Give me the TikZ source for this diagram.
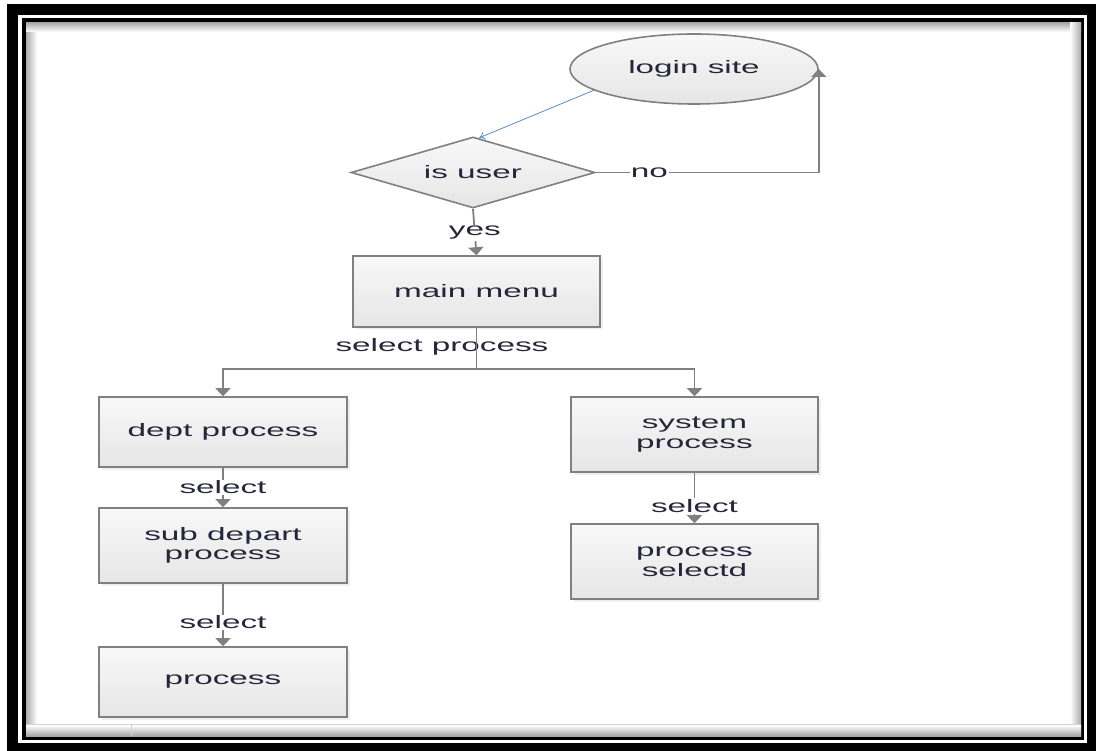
\documentclass[tikz,border=0pt]{standalone}
\usepackage{fontspec}
\newfontfamily\lab[FakeStretch=1.85]{Liberation Sans}
\usetikzlibrary{shapes.geometric,arrows.meta,shadows,calc}
\definecolor{edge}{HTML}{808080}
\definecolor{ink}{HTML}{26263A}
\definecolor{link}{HTML}{5B8BD0}
\definecolor{boxtop}{HTML}{F8F8F8}
\definecolor{boxbot}{HTML}{E6E6E6}
\begin{document}
\begin{tikzpicture}[x=1pt,y=-1pt,
  every node/.style={font=\lab\fontsize{18}{19.5}\selectfont, text=ink},
  stepbox/.style={draw=edge, line width=1.6pt, top color=boxtop, bottom color=boxbot,
    minimum width=248pt, minimum height=70pt, align=center, inner sep=0pt,
    drop shadow={opacity=0.12, shadow xshift=2.5pt, shadow yshift=-2.5pt}},
  flow/.style={draw=edge, line width=1.8pt, -{Triangle[length=8pt,width=15pt]}},
  lbl/.style={fill=white, inner sep=1pt}]
% page and frame
\useasboundingbox (0,0) rectangle (1096,751);
\fill[white] (0,0) rectangle (1096,751);
\fill[black] (7,4) rectangle (1096,751);
\fill[white] (18,15) rectangle (1087,743);
\fill[black] (21.5,18) rectangle (1084,740);
\fill[white] (26,23) rectangle (1081,736);
\shade[left color=gray!65, right color=white] (26,23) rectangle (37,736);
\shade[top color=gray!65, bottom color=white] (26,23) rectangle (1081,32);
\shade[left color=white, right color=gray!65] (1070,23) rectangle (1081,736);
\shade[top color=white, bottom color=gray!70] (26,725) rectangle (1081,736);
\draw[gray!35, line width=1pt] (26,724.5) -- (1081,724.5);
\draw[gray!35, line width=1pt] (131,724.5) -- (131,736);

% nodes
\node[ellipse, draw=edge, line width=1.6pt, top color=boxtop, bottom color=boxbot,
  minimum width=248pt, minimum height=70pt, inner sep=0pt] (login) at (694,69) {login site};
\node[diamond, draw=edge, line width=1.6pt, top color=boxtop, bottom color=boxbot,
  aspect=3.44, minimum width=244pt, minimum height=71pt, inner sep=0pt] (dia) at (473,172.5) {is user};
\node[stepbox, minimum width=247pt, minimum height=71pt] (main) at (476.5,291.5) {main menu};
\node[stepbox] (dept) at (223,432) {dept process};
\node[stepbox, minimum height=75pt] (sub) at (223,545.5) {sub depart\\process};
\node[stepbox] (proc) at (223,682) {process};
\node[stepbox, minimum width=247pt, minimum height=75pt] (sys) at (694.5,434.5) {system\\process};
\node[stepbox, minimum width=247pt, minimum height=75pt] (sel) at (694.5,561.5) {process\\selectd};

% connectors
\draw[link, line width=0.8pt, -{To[length=6pt,width=8pt]}] (login.192) -- ([xshift=6pt,yshift=-1.7pt]dia.north);
\draw[flow] (dia.east) -| node[lbl, pos=0.12] (no) {no} (login.east);
\draw[flow] (dia.south) -- node[lbl, pos=0.52] (yes) {yes} (main.north);
\node (selproc) at (442,347) {select process};
\coordinate (split) at ($(main.south)+(0,41)$);
\draw[flow] (main.south) -- (split) -| (dept.north);
\draw[flow] (split) -| (sys.north);
\draw[flow] (dept.south) -- node[lbl, pos=0.5] (s1) {select} (sub.north);
\draw[flow] (sub.south) -- node[lbl, pos=0.62] (s2) {select} (proc.north);
\draw[flow] (sys.south) -- node[lbl, pos=0.66] (s3) {select} (sel.north);
\end{tikzpicture}
\end{document}
